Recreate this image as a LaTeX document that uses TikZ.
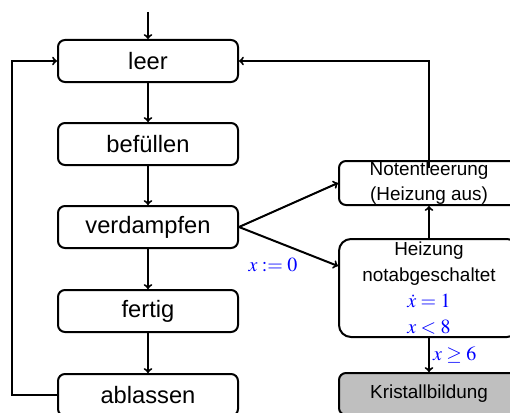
\documentclass[tikz,border=0pt]{standalone}
\usepackage{mathptmx}
\usepackage{fontspec}
\setmainfont{Liberation Sans}
\usetikzlibrary{calc}

\begin{document}
\begin{tikzpicture}[x=1pt,y=1pt,
  state/.style={draw, line width=2pt, rounded corners=7pt, fill=white,
    minimum width=180pt, minimum height=42pt, inner sep=0pt,
    font=\fontsize{23.7}{28}\selectfont},
  sidebox/.style={draw, line width=2pt, rounded corners=7pt, fill=white,
    minimum width=180pt, inner sep=0pt},
  sidetext/.style={align=center, inner sep=0pt,
    font=\fontsize{18.9}{25.5}\selectfont},
  arr/.style={->, line width=2pt},
  guard/.style={text=blue, font=\fontsize{20}{24}\selectfont}]
\useasboundingbox (0,0) rectangle (510,-412);

% main cycle
\node[state] (leer)   at (148,-61)  {leer};
\node[state] (bef)    at (148,-144) {befüllen};
\node[state] (verd)   at (148,-227) {verdampfen};
\node[state] (fertig) at (148,-311) {fertig};
\node[state] (abl)    at (148,-395) {ablassen};

% emergency branch
\node[sidebox, minimum height=44pt] (noten) at (429,-183) {};
\node[sidetext] at (noten) {Notentleerung\\(Heizung aus)};
\node[sidebox, minimum height=98pt, rounded corners=12pt] (heiz) at (429,-288) {};
\node[sidetext] at (heiz) {Heizung\\notabgeschaltet\\[1pt]
  {\color{blue}\fontsize{20}{24}\selectfont$\dot{x}=1$}\\
  {\color{blue}\fontsize{20}{24}\selectfont$x<8$}};
\node[sidebox, minimum height=42pt, fill=black!25] (krist) at (429,-394) {};
\node[sidetext] at (krist) {Kristallbildung};

\coordinate (start) at (148,-12);
\coordinate (nt) at (429,-168);

% connectors
\draw[arr] (start) -- (leer);
\draw[arr] (leer) -- (bef);
\draw[arr] (bef) -- (verd);
\draw[arr] (verd) -- (fertig);
\draw[arr] (fertig) -- (abl);
\draw[arr] (abl.west) -- ++(-45,0) |- (leer.west);
\draw[arr] (verd.east) -- (noten.west);
\draw[arr] (verd.east) -- ($(heiz.west)+(0,22)$);
\node[guard] at (273,-265) {$x:=0$};
\draw[arr] (heiz) -- (noten);
\draw[arr] (heiz) -- (krist) node[midway, right, guard, inner sep=3pt] {$x\geq6$};
\draw[arr] (nt) |- (leer.east);
\end{tikzpicture}
\end{document}
